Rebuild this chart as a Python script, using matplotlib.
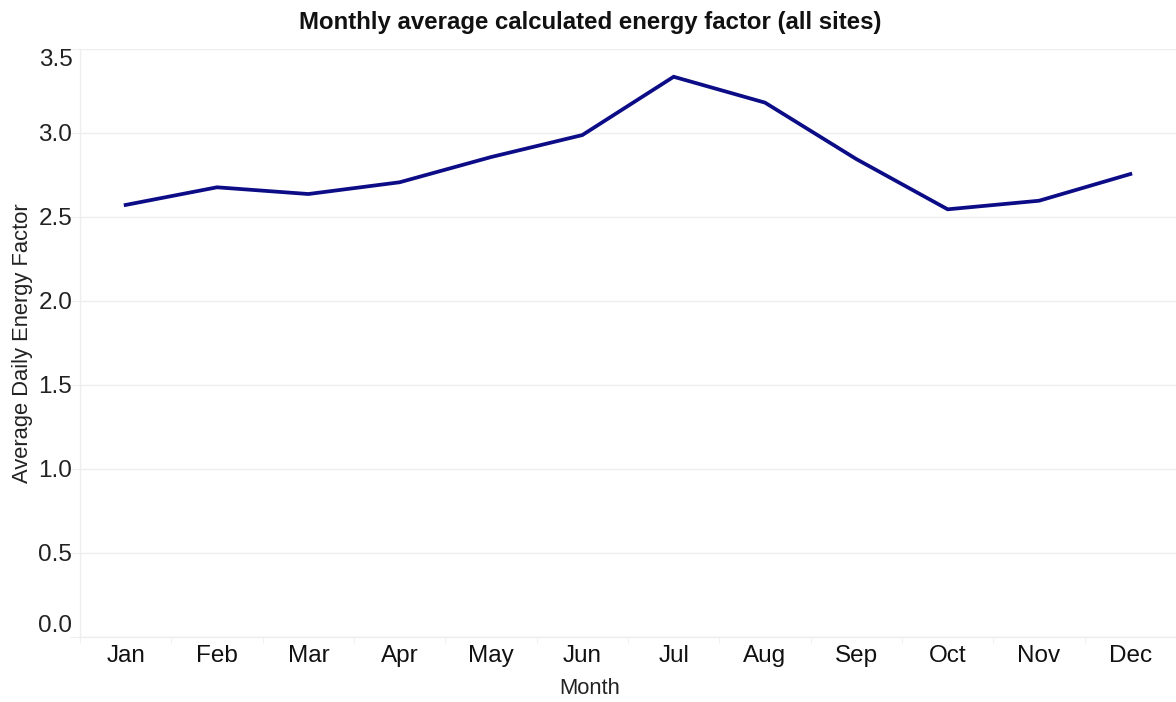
import matplotlib
matplotlib.use("Agg")
import matplotlib.pyplot as plt
import numpy as np

months = ["Jan", "Feb", "Mar", "Apr", "May", "Jun", "Jul", "Aug", "Sep", "Oct", "Nov", "Dec"]
energy_factor = [2.570, 2.675, 2.635, 2.705, 2.855, 2.986, 3.333, 3.179, 2.843, 2.544, 2.595, 2.754]
yticks = [0.0, 0.5, 1.0, 1.5, 2.0, 2.5, 3.0, 3.5]

plt.rcParams['font.family'] = ['Liberation Sans', 'DejaVu Sans']

W, H = 1176, 702
fig = plt.figure(figsize=(W / 100, H / 100), dpi=100)
ax = fig.add_axes([80 / W, 1 - 636.7 / H, (1176 - 80) / W, (636.7 - 48.7) / H])

x = np.arange(len(months))
ax.plot(x, energy_factor, color="#0c0c86", linewidth=2.7, solid_joinstyle="miter", zorder=3)

ax.set_xlim(-0.5, len(months) - 0.5)
ax.set_ylim(0, 3.5)
ax.set_yticks(yticks)
ax.set_yticklabels([f"{v:.1f}" for v in yticks], fontsize=17.5, color="#222222")
labs = ax.get_yticklabels()
labs[0].set_verticalalignment("bottom")
labs[-1].set_verticalalignment("top")
ax.set_xticks(x)
ax.set_xticklabels(months, fontsize=17.5, color="#111111")
ax.set_xticks(np.arange(-0.5, len(months), 1), minor=True)

ax.grid(axis="y", color="#eeeeee", linewidth=1.0, zorder=0)
ax.tick_params(axis="y", which="major", length=7, color="#eeeeee", pad=-1.5)
ax.tick_params(axis="x", which="major", length=0, pad=6)
ax.tick_params(axis="x", which="minor", length=4, color="#eeeeee")
for s in ["top", "right"]:
    ax.spines[s].set_visible(False)
for s in ["left", "bottom"]:
    ax.spines[s].set_color("#eeeeee")
    ax.spines[s].set_linewidth(1.0)

ax.set_ylabel("Average Daily Energy Factor", fontsize=15.8, color="#222222")
ax.yaxis.set_label_coords(-(80 - 33) / (W - 80), 0.5)
fig.text(590 / W, 1 - 688 / H, "Month", fontsize=15.8, color="#222222", ha="center", va="center")
fig.text(590 / W, 1 - 22 / H, "Monthly average calculated energy factor (all sites)",
         fontsize=17.3, fontweight="bold", color="#111111", ha="center", va="center")

fig.savefig("out.png", dpi=100, facecolor="white")
